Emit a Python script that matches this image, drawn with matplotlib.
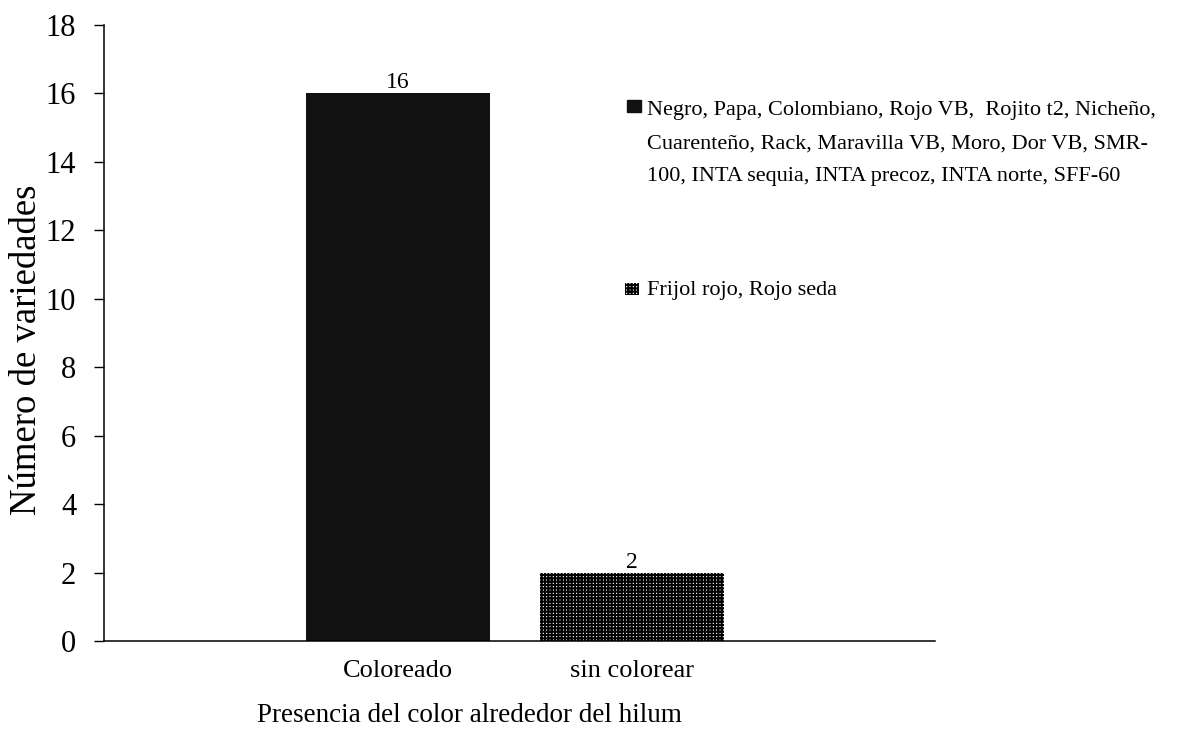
import matplotlib
matplotlib.use("Agg")
import matplotlib.pyplot as plt
from matplotlib.patches import Rectangle

# Data
categories = ["Coloreado", "sin colorear"]
counts = [16, 2]
legend_groups = [
    ["Negro, Papa, Colombiano, Rojo VB,  Rojito t2, Nicheño,",
     "Cuarenteño, Rack, Maravilla VB, Moro, Dor VB, SMR-",
     "100, INTA sequia, INTA precoz, INTA norte, SFF-60"],
    ["Frijol rojo, Rojo seda"],
]
y_ticks = [0, 2, 4, 6, 8, 10, 12, 14, 16, 18]

# Styling / layout
plt.rcParams["font.family"] = ["Liberation Serif", "DejaVu Serif"]
plt.rcParams["hatch.linewidth"] = 1.5
W, H = 1178, 738
bar_x = [0.354, 0.635]
bar_w = 0.2214
fills = [dict(color="#111111"),
         dict(facecolor="white", edgecolor="black", hatch="+++++", linewidth=0)]

fig = plt.figure(figsize=(W / 100, H / 100), dpi=100)
ax = fig.add_axes([104 / W, (H - 641) / H, (935 - 104) / W, (641 - 25) / H])

for x, v, style in zip(bar_x, counts, fills):
    b = ax.bar(x, v, width=bar_w, **style)
    ax.bar_label(b, labels=[str(v)], padding=0, fontsize=17)

ax.set_xlim(0, 1)
ax.set_ylim(0, 18)
ax.set_yticks(y_ticks)
ax.tick_params(axis="y", labelsize=22, length=7, width=1, direction="out", pad=13)
ax.set_xticks(bar_x, categories)
ax.tick_params(axis="x", labelsize=19, length=0, pad=14)

for s in ("top", "right"):
    ax.spines[s].set_visible(False)
for s in ("left", "bottom"):
    ax.spines[s].set_linewidth(1.1)

ax.set_xlabel("Presencia del color alrededor del hilum", fontsize=19.5)
ax.xaxis.set_label_coords((469 - 104) / 831, -0.1)
ax.set_ylabel("Número de variedades", fontsize=26.5)
ax.yaxis.set_label_coords(-0.072, 0.472)

# Legend drawn beside the plot with a hanging indent for wrapped names
def px(x, y):
    return x / W, 1 - y / H

marker_boxes = [(627, 100), (625, 283)]
line_y = [[111, 144, 177], [291]]
for (mx, my), lines, ys, style in zip(marker_boxes, legend_groups, line_y, fills):
    x0, y0 = px(mx, my + 12)
    fig.patches.append(Rectangle((x0, y0), 14 / W, 12 / H, transform=fig.transFigure,
                                 **style))
    for txt, ty in zip(lines, ys):
        tx, tyf = px(647, ty)
        fig.text(tx, tyf, txt, fontsize=16, va="center", ha="left")

fig.savefig("out.png", dpi=100)
